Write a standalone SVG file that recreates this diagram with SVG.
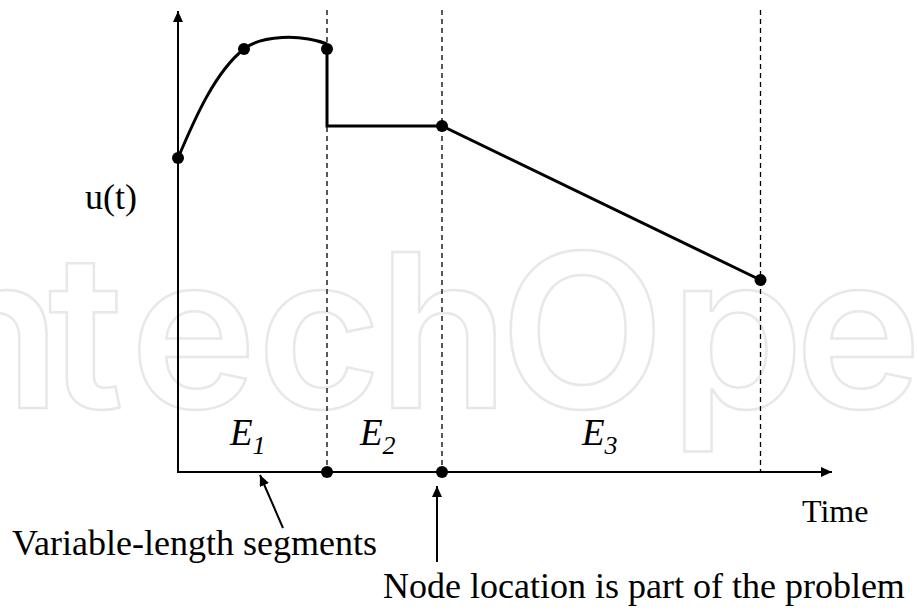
<svg xmlns="http://www.w3.org/2000/svg" width="917" height="610" viewBox="0 0 917 610">
  <style>
    .wm { font-family: Inter, "Open Sans", sans-serif; font-weight: 600; font-size: 214px; fill: none; stroke: #e8e8e8; stroke-width: 2.5; }
    .axis { stroke: #000; stroke-width: 2; fill: none; }
    .sig { stroke: #000; stroke-width: 3; fill: none; stroke-linejoin: miter; }
    .dash { stroke: #000; stroke-width: 1.3; stroke-dasharray: 5 4; fill: none; }
    .dot { fill: #000; }
    .lbl { font-family: "Liberation Serif", "Times New Roman", serif; fill: #000; }
    .call { stroke: #000; stroke-width: 2; fill: none; }
  </style>
  <defs>
    <marker id="ah" viewBox="0 0 11 10" refX="11" refY="5" markerWidth="11" markerHeight="10" markerUnits="userSpaceOnUse" orient="auto">
      <path d="M0,0 L11,5 L0,10 Z" fill="#000"/>
    </marker>
  </defs>
  <rect width="917" height="610" fill="#fff"/>

  <g id="watermark">
    <text class="wm" y="408" x="-120 -70 48 130 257 378 500 670 795 930">IntechOpen</text>
  </g>

  <g id="grid">
    <line class="dash" x1="327" y1="10" x2="327" y2="472"/>
    <line class="dash" x1="442" y1="10" x2="442" y2="472"/>
    <line class="dash" x1="760.5" y1="10" x2="760.5" y2="472"/>
  </g>

  <g id="axes">
    <line class="axis" x1="178" y1="473" x2="178" y2="11" marker-end="url(#ah)"/>
    <line class="axis" x1="177" y1="472" x2="832" y2="472" marker-end="url(#ah)"/>
  </g>

  <g id="signal">
    <path class="sig" d="M178,158 C195,118 215,72 244,49 C262,35 300,34 327,44"/>
    <path class="sig" d="M327,49 L327,126 L442,126 L760.5,280"/>
  </g>

  <g id="n1"><circle class="dot" cx="178" cy="158" r="6"/></g>
  <g id="n2"><circle class="dot" cx="244" cy="49" r="6"/></g>
  <g id="n3"><circle class="dot" cx="327" cy="49" r="6"/></g>
  <g id="n4"><circle class="dot" cx="442" cy="126" r="6"/></g>
  <g id="n5"><circle class="dot" cx="760.5" cy="280" r="6"/></g>
  <g id="t1"><circle class="dot" cx="327" cy="472" r="6"/></g>
  <g id="t2"><circle class="dot" cx="442" cy="472" r="6"/></g>

  <g id="connectors">
    <line class="call" x1="283" y1="528" x2="260" y2="475" marker-end="url(#ah)"/>
    <line class="call" x1="437" y1="562" x2="437" y2="486" marker-end="url(#ah)"/>
  </g>

  <g id="labels">
    <text class="lbl" x="85" y="209" font-size="36">u(t)</text>
    <text class="lbl" x="230" y="445" font-size="37" font-style="italic">E<tspan font-size="26" dy="9">1</tspan></text>
    <text class="lbl" x="360" y="445" font-size="37" font-style="italic">E<tspan font-size="26" dy="9">2</tspan></text>
    <text class="lbl" x="582" y="445" font-size="37" font-style="italic">E<tspan font-size="26" dy="9">3</tspan></text>
    <text class="lbl" x="802" y="522" font-size="32">Time</text>
    <text class="lbl" x="12" y="555" font-size="36">Variable-length segments</text>
    <text class="lbl" x="383" y="598" font-size="36">Node location is part of the problem</text>
  </g>
</svg>
